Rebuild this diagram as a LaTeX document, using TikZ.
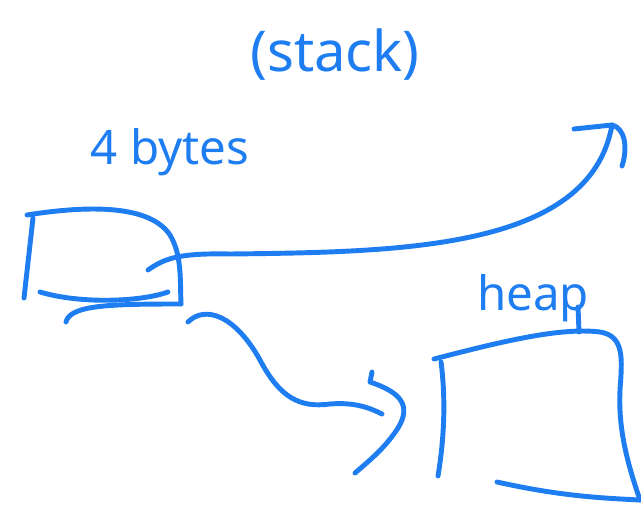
\documentclass[tikz,border=0pt]{standalone}
\usepackage{fontspec}
\setsansfont{Noto Sans}
\usetikzlibrary{positioning}
\definecolor{pen}{RGB}{30,125,240}
\tikzset{x=0.02cm,y=-0.02cm,
ink/.style={draw=pen, line width=2.8pt, line cap=round, line join=round},
scrawl/.style={text=pen, font=\sffamily, inner sep=0pt},
}

\begin{document}
\begin{tikzpicture}
\useasboundingbox (0,0) rectangle (641,506);
% labels
    \node[scrawl, font=\sffamily\fontsize{32}{36}\selectfont] (stack) at (335,55) {(stack)};
    \node[scrawl, font=\sffamily\fontsize{27}{30}\selectfont] (bytes) at (170,152) {4 bytes};
    \node[scrawl, font=\sffamily\fontsize{27}{30}\selectfont] (heap) at (533,298) {heap};
% the 4 byte slot
    \coordinate (sTL) at (27,215);
    \coordinate (sBL) at (24,298);
    \coordinate (sBR) at (181,304);
    \draw[ink] (sBL) -- (33,218);
    \draw[ink] (sTL) .. controls (90,205) and (150,205) .. (170,235) .. controls (182,255) and (180,280) .. (sBR);
    \draw[ink] (40,292) .. controls (80,304) and (140,302) .. (168,292);
    \draw[ink] (66,322) .. controls (70,305) and (110,304) .. (sBR);
% pointer out of the slot
    \coordinate (p0) at (148,270);
    \coordinate (p1) at (612,125);
    \draw[ink] (p0) .. controls (165,258) and (180,253) .. (230,254) .. controls (400,252) and (590,250) .. (p1);
    \draw[ink] (574,129) -- (p1) .. controls (625,128) and (628,148) .. (622,166);
% heap box
    \coordinate (hTL) at (434,359);
    \coordinate (hTick) at (578,307);
    \draw[ink] (441,362) .. controls (446,400) and (444,440) .. (438,476);
    \draw[ink] (hTL) .. controls (500,342) and (560,327) .. (600,332) .. controls (625,336) and (622,360) .. (620,390) .. controls (618,430) and (628,465) .. (640,500);
    \draw[ink] (497,482) .. controls (560,496) and (600,498) .. (640,500);
    \draw[ink] (hTick) -- (579,332);
% pointer into the heap
    \coordinate (q0) at (188,322);
    \coordinate (q1) at (382,414);
    \draw[ink] (q0) .. controls (205,305) and (235,315) .. (260,360) .. controls (280,398) and (300,408) .. (330,404) .. controls (355,402) and (370,408) .. (q1);
    \draw[ink] (372,372) -- (370,382) .. controls (400,392) and (412,405) .. (398,428) .. controls (385,448) and (370,460) .. (355,473);
\end{tikzpicture}
\end{document}
